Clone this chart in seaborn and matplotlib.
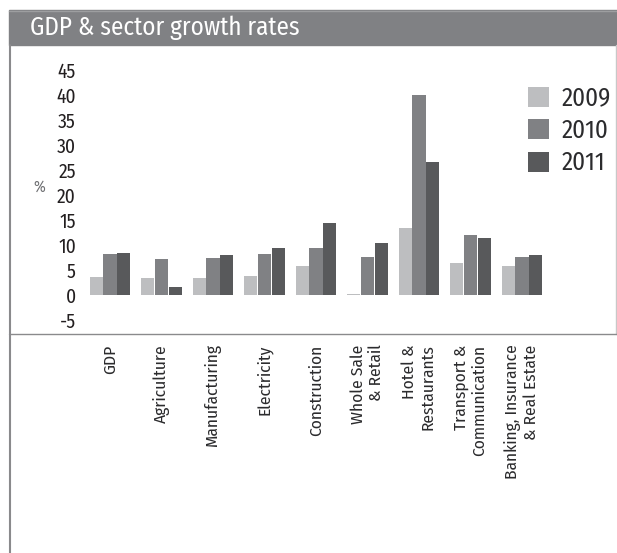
import matplotlib
matplotlib.use("Agg")
import matplotlib.pyplot as plt
from matplotlib import font_manager
from matplotlib.lines import Line2D
from matplotlib.patches import Rectangle
import pandas as pd
import seaborn as sns

# Sector growth rates (%)
sectors = [
    "GDP", "Agriculture", "Manufacturing", "Electricity", "Construction",
    "Whole Sale\n& Retail", "Hotel &\nRestaurants", "Transport &\nCommunication",
    "Banking, Insurance\n& Real Estate",
]
years = ["2009", "2010", "2011"]
growth_2009 = [3.6, 3.4, 3.4, 3.8, 5.8, 0.2, 13.4, 6.4, 5.8]
growth_2010 = [8.2, 7.2, 7.4, 8.2, 9.4, 7.6, 40.0, 12.0, 7.6]
growth_2011 = [8.5, 1.6, 8.0, 9.4, 14.4, 10.4, 26.6, 11.4, 8.0]
y_ticks = [-5, 0, 5, 10, 15, 20, 25, 30, 35, 40, 45]

colors = ["#bdbec0", "#808184", "#58595b"]

df = pd.DataFrame({
    "sector": sectors * 3,
    "year": [y for y in years for _ in sectors],
    "growth": growth_2009 + growth_2010 + growth_2011,
})

sns.set_theme(style="white")

# Pick a condensed family that ships both light and regular faces
weights = {}
for f in font_manager.fontManager.ttflist:
    if f.style == "normal":
        weights.setdefault(f.name, set()).add(f.weight)
candidates = ["Fira Sans Condensed", "Roboto Condensed", "IBM Plex Sans Condensed",
              "Encode Sans Semi Condensed", "Asap Condensed", "Barlow Semi Condensed",
              "Open Sans Condensed", "PT Sans Narrow", "Lato"]
narrow = next((c for c in candidates if c in weights and 300 in weights[c]
               and 400 in weights[c]),
              next((c for c in candidates if c in weights), "DejaVu Sans"))
plt.rcParams["font.family"] = [narrow, "DejaVu Sans"]

W, H = 617, 553
fig = plt.figure(figsize=(W / 100, H / 100), dpi=100)

def fx(px):
    return px / W

def fy(py):
    return 1 - py / H

# Header band and frame
fig.patches.append(Rectangle((fx(9), fy(45)), 1 - fx(9), (45 - 10) / H,
                             transform=fig.transFigure, color="#808184", zorder=0))
fig.lines.append(Line2D([fx(9), 1], [fy(10.5), fy(10.5)], transform=fig.transFigure,
                        color="#9d9ea0", lw=1))
fig.lines.append(Line2D([fx(9.5), fx(9.5)], [fy(45), 0], transform=fig.transFigure,
                        color="#8a8a8c", lw=1.5))
fig.lines.append(Line2D([fx(616), fx(616)], [fy(45), fy(334)], transform=fig.transFigure,
                        color="#c8c8c8", lw=1))
fig.lines.append(Line2D([fx(9), 1], [fy(334), fy(334)], transform=fig.transFigure,
                        color="#8a8a8c", lw=1))
fig.text(fx(30), fy(28), "GDP & sector growth rates", color="white",
         fontsize=18, va="center", ha="left")

ax = fig.add_axes([fx(84.25), fy(325), 463.5 / W, 260 / H])
sns.barplot(data=df, x="sector", y="growth", hue="year", palette=colors,
            width=0.8, gap=0.05, linewidth=0, saturation=1, ax=ax)
ax.set_xlim(-0.5, len(sectors) - 0.5)
ax.set_ylim(-6, 46)
ax.set_yticks(y_ticks)
ax.set_yticklabels([str(t) for t in y_ticks], fontsize=14, color="#231f20")
ax.set_xlabel("")
ax.set_ylabel("")
ax.tick_params(axis="both", length=0)
ax.tick_params(axis="y", pad=6)
ax.tick_params(axis="x", pad=14)
for lab in ax.get_xticklabels():
    lab.set_rotation(90)
    lab.set_va("top")
    lab.set_ha("center")
    lab.set_multialignment("right")
    lab.set_fontsize(12.5)
    lab.set_color("#2b2b2d")
for s in ax.spines.values():
    s.set_visible(False)
ax.patch.set_alpha(0)

fig.text(fx(39), fy(187), "%", color="#6d6e71", fontsize=11.5, ha="center", va="center")

handles, labels = ax.get_legend_handles_labels()
ax.legend(handles, labels, loc="upper left", bbox_to_anchor=(fx(527.5), fy(86)),
          bbox_transform=fig.transFigure, frameon=False,
          prop={"size": 18},
          handlelength=0.85, handleheight=0.85, handletextpad=0.5,
          labelspacing=0.3, borderpad=0, borderaxespad=0)
for t in ax.get_legend().get_texts():
    t.set_color("#2b2b2d")

fig.savefig("out.png", dpi=100)
